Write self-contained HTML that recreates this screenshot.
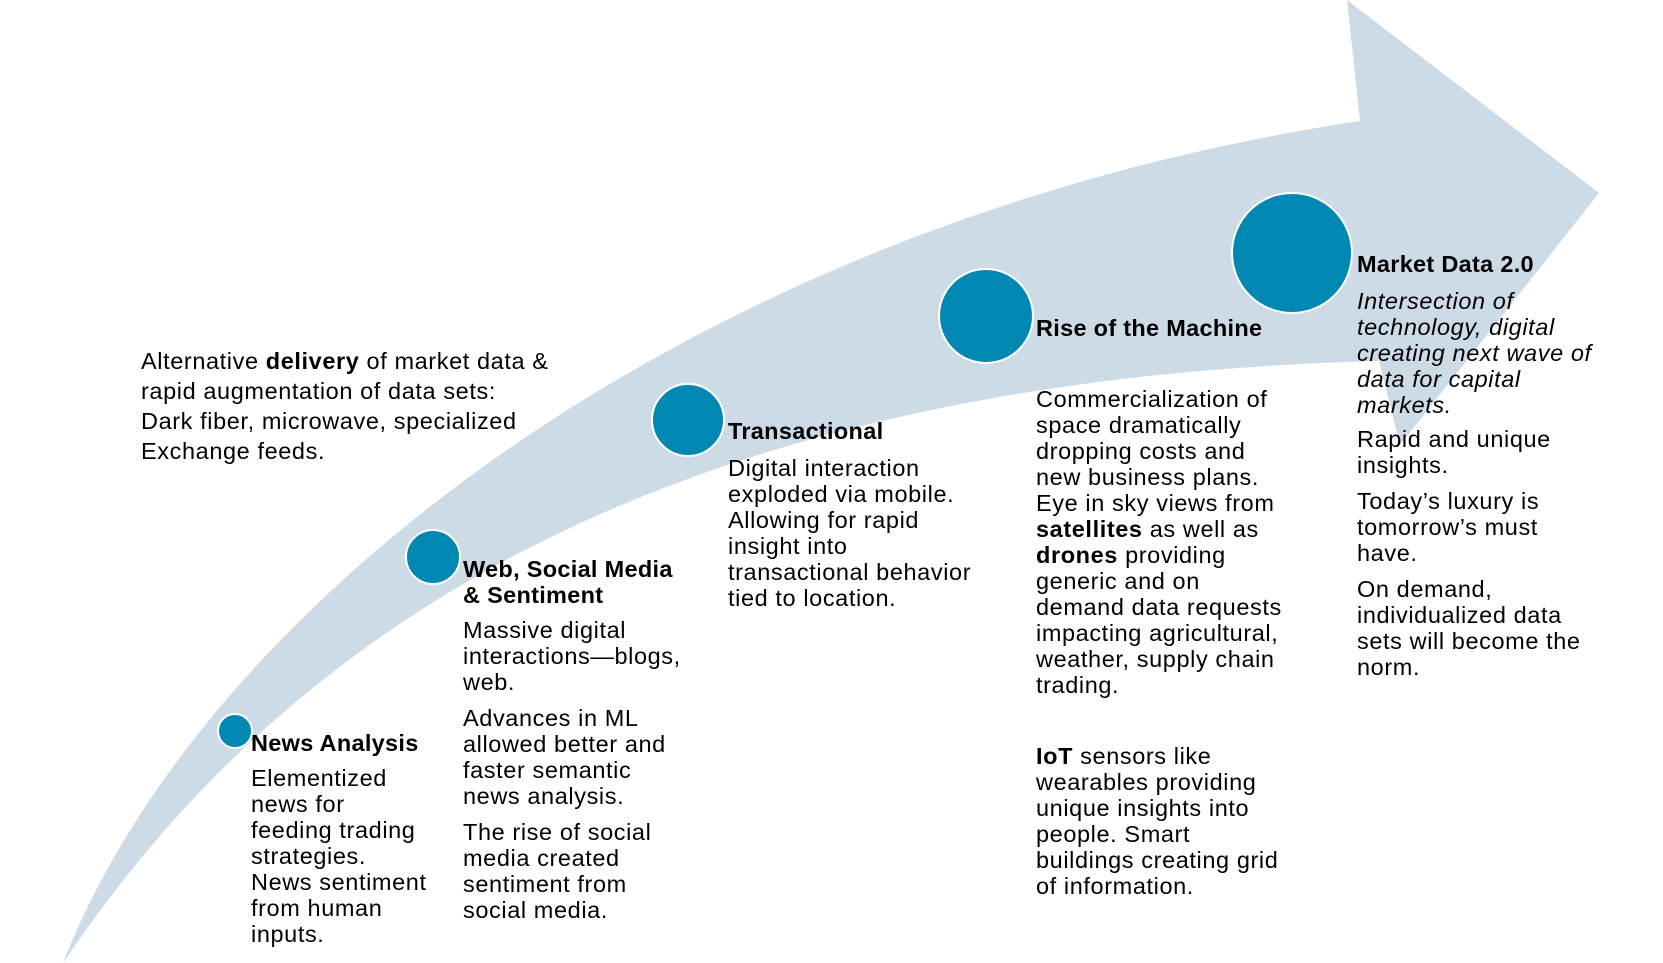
<!DOCTYPE html>
<html><head><meta charset="utf-8"><style>
body{margin:0;width:1663px;height:963px;background:#fff;position:relative;overflow:hidden;font-family:"Liberation Sans",Arial,sans-serif;color:#000}
.t{position:absolute;font-size:23.5px;letter-spacing:0.6px;line-height:26px;white-space:nowrap}
.h{font-weight:bold;letter-spacing:0.3px}
svg{position:absolute;left:0;top:0}
</style></head><body>
<svg width="1663" height="963">
<path d="M63,963 C205,600 700,220 1360,121 L1347,0 L1599,193 L1400,445 L1379,361 C650,380 280,640 63,963 Z" fill="#cddbe6"/>
<g fill="#0088b3" stroke="#fff" stroke-width="2">
<circle cx="235" cy="731" r="17"/>
<circle cx="433" cy="557" r="27"/>
<circle cx="688" cy="420" r="36"/>
<circle cx="986" cy="316" r="47"/>
<circle cx="1292" cy="253" r="60"/>
</g>
</svg>
<div class="t" style="left:141px;top:346px;line-height:30px">Alternative <b>delivery</b> of market data &amp;<br>rapid augmentation of data sets:<br>Dark fiber, microwave, specialized<br>Exchange feeds.</div>

<div class="t h" style="left:251px;top:730px">News Analysis</div>
<div class="t" style="left:251px;top:765px">Elementized<br>news for<br>feeding trading<br>strategies.<br>News sentiment<br>from human<br>inputs.</div>

<div class="t h" style="left:463px;top:556px">Web, Social Media<br>&amp; Sentiment</div>
<div class="t" style="left:463px;top:617px">Massive digital<br>interactions—blogs,<br>web.</div>
<div class="t" style="left:463px;top:705px">Advances in ML<br>allowed better and<br>faster semantic<br>news analysis.</div>
<div class="t" style="left:463px;top:819px">The rise of social<br>media created<br>sentiment from<br>social media.</div>

<div class="t h" style="left:728px;top:418px">Transactional</div>
<div class="t" style="left:728px;top:455px">Digital interaction<br>exploded via mobile.<br>Allowing for rapid<br>insight into<br>transactional behavior<br>tied to location.</div>

<div class="t h" style="left:1036px;top:315px">Rise of the Machine</div>
<div class="t" style="left:1036px;top:386px">Commercialization of<br>space dramatically<br>dropping costs and<br>new business plans.<br>Eye in sky views from<br><b>satellites</b> as well as<br><b>drones</b> providing<br>generic and on<br>demand data requests<br>impacting agricultural,<br>weather, supply chain<br>trading.</div>
<div class="t" style="left:1036px;top:743px"><b>IoT</b> sensors like<br>wearables providing<br>unique insights into<br>people. Smart<br>buildings creating grid<br>of information.</div>

<div class="t h" style="left:1357px;top:251px">Market Data 2.0</div>
<div class="t" style="left:1357px;top:288px;font-style:italic">Intersection of<br>technology, digital<br>creating next wave of<br>data for capital<br>markets.</div>
<div class="t" style="left:1357px;top:426px">Rapid and unique<br>insights.</div>
<div class="t" style="left:1357px;top:488px">Today’s luxury is<br>tomorrow’s must<br>have.</div>
<div class="t" style="left:1357px;top:576px">On demand,<br>individualized data<br>sets will become the<br>norm.</div>
</body></html>
